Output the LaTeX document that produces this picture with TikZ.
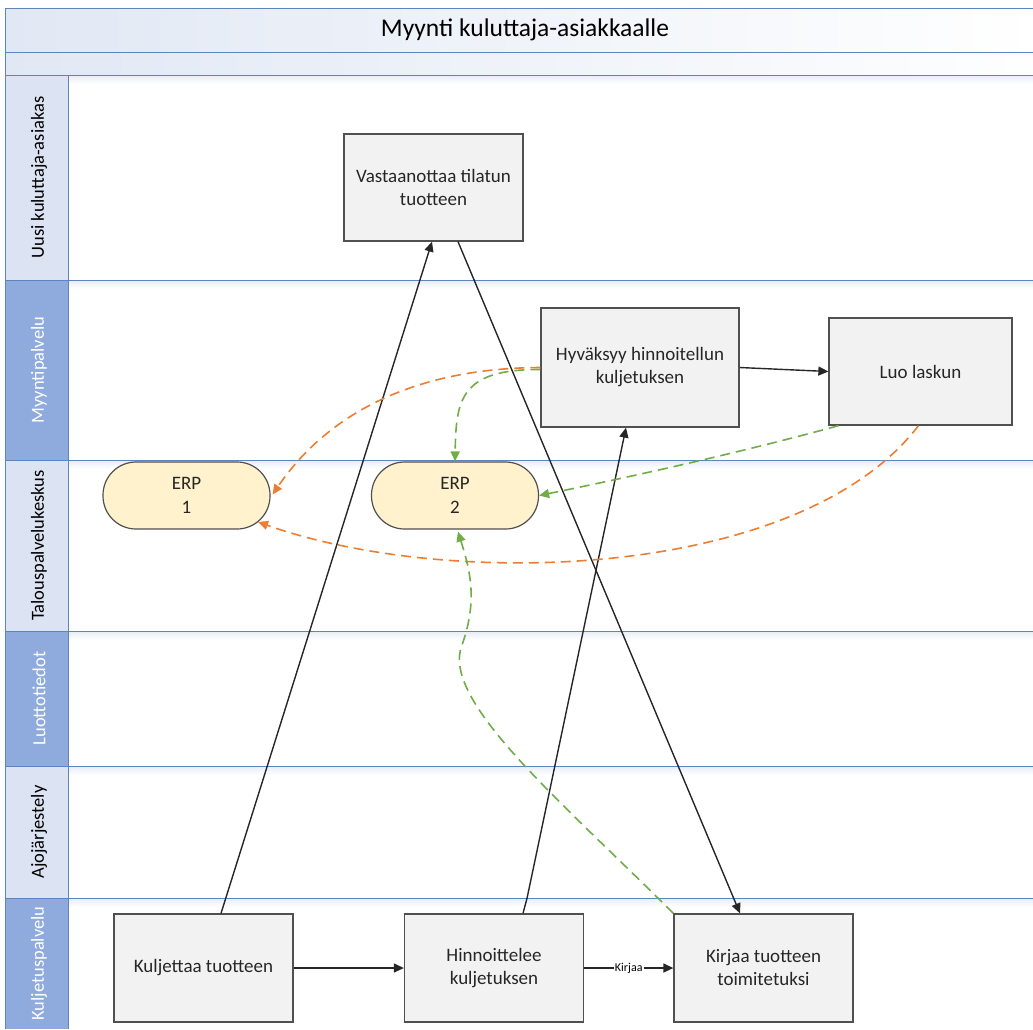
\documentclass[tikz,border=0pt]{standalone}
\usepackage{fontspec}
\setmainfont{Carlito}
\usetikzlibrary{arrows.meta,calc}
\definecolor{lanedark}{HTML}{8FAADC}
\definecolor{lanelight}{HTML}{DCE3F2}
\definecolor{laneline}{HTML}{5B84C0}
\definecolor{fadec}{HTML}{E6ECF6}
\definecolor{titlec}{HTML}{E1E8F4}
\definecolor{boxfill}{HTML}{F2F2F2}
\definecolor{boxline}{HTML}{505050}
\definecolor{erpfill}{HTML}{FFF2CC}
\definecolor{orangec}{HTML}{ED7D31}
\definecolor{greenc}{HTML}{70AD47}
\definecolor{textc}{HTML}{262626}
\tikzset{
  procbox/.style={draw=boxline, fill=boxfill, line width=1.3pt, minimum width=179pt, minimum height=107pt,
    inner sep=2pt, align=center, text=textc, font=\fontsize{19}{23}\selectfont},
  erpbox/.style={draw=boxline, fill=erpfill, line width=1.2pt, rounded corners=33pt, minimum width=167pt,
    minimum height=67pt, inner sep=2pt, align=center, text=textc, font=\fontsize{19}{24}\selectfont},
  flow/.style={line width=1.4pt, draw=black!85, -{Triangle[length=10pt,width=9pt]}},
  oflow/.style={line width=1.6pt, draw=orangec, dash pattern=on 10pt off 6pt,
    -{Triangle[length=10pt,width=9pt,fill=orangec]}},
  gflow/.style={line width=1.6pt, draw=greenc, dash pattern=on 10pt off 6pt,
    -{Triangle[length=10pt,width=9pt,fill=greenc]}},
  lanelab/.style={rotate=90, font=\fontsize{18.5}{21}\selectfont},
  sepline/.style={draw=laneline, line width=1pt},
}
\begin{document}
\begin{tikzpicture}[x=1pt,y=-1pt]
\useasboundingbox (0,0) rectangle (1033,1029);
\clip (0,0) rectangle (1033,1029);
% title bands
\shade[left color=titlec, right color=white] (5,8) rectangle (1040,52);
\shade[left color=titlec, right color=white!97!titlec] (5,52) rectangle (1040,74);
\draw[sepline] (5,8) -- (1040,8);
\draw[sepline] (5,52) -- (1040,52);
\node[font=\fontsize{25.5}{28}\selectfont, text=black] (title) at (525,30) {Myynti kuluttaja-asiakkaalle};
% lanes
\foreach \t/\b/\c in {75/280/lanelight, 280/460/lanedark, 460/631/lanelight, 631/766/lanedark, 766/898/lanelight, 898/1029/lanedark}{
  \shade[top color=fadec, bottom color=white] (68,\t) rectangle (1040,\t+9);
  \fill[\c] (5,\t) rectangle (68,\b);
  \draw[sepline] (5,\t) -- (1040,\t);
  \draw[sepline] (68,\t) -- (68,\b);
}
\draw[sepline] (5,8) -- (5,1029);
\node[lanelab, text=black] (l1) at (39,177.5) {Uusi kuluttaja-asiakas};
\node[lanelab, text=white] (l2) at (39,370) {Myyntipalvelu};
\node[lanelab, text=black] (l3) at (39,545.5) {Talouspalvelukeskus};
\node[lanelab, text=white] (l4) at (39,698.5) {Luottotiedot};
\node[lanelab, text=black] (l5) at (39,832) {Ajojärjestely};
\node[lanelab, text=white] (l6) at (39,963.5) {Kuljetuspalvelu};
% process boxes
\node[procbox] (vas) at (433.5,187.5) {Vastaanottaa tilatun\\tuotteen};
\node[procbox, minimum width=198pt, minimum height=119pt] (hyv) at (640,367.5) {Hyväksyy hinnoitellun\\kuljetuksen};
\node[procbox, minimum width=183pt] (luo) at (920.5,371.5) {Luo laskun};
\node[erpbox] (erpa) at (186.5,495.5) {ERP\\1};
\node[erpbox] (erpb) at (455,495.5) {ERP\\2};
\node[procbox, minimum height=108pt] (kul) at (203.5,968) {Kuljettaa tuotteen};
\node[procbox, minimum height=108pt] (hin) at (494,968) {Hinnoittelee\\kuljetuksen};
\node[procbox, minimum height=108pt] (kir) at (763.5,968) {Kirjaa tuotteen\\toimitetuksi};
% solid flows
\draw[flow] ($(kul.north)+(17.5,0)$) -- ($(vas.south)+(-1.5,0)$);
\draw[flow] ($(vas.south)+(24.5,0)$) -- ($(kir.north)+(-23.5,0)$);
\draw[flow] ($(hin.north)+(29,0)$) -- ++(4,-15) -- ($(hyv.south)+(-14,0)$);
\draw[flow] (hyv.east) -- (luo.west);
\draw[flow] (kul.east) -- (hin.west);
\draw[flow] (hin.east) -- node[fill=white, inner sep=1pt, font=\fontsize{12}{13}\selectfont] (kirlab) {Kirjaa} (kir.west);
% dashed flows
\draw[gflow] ($(hyv.west)+(0,2)$) .. controls (460,369) and (456,400) .. (erpb.north);
\draw[oflow] (hyv.west) .. controls (420,368) and (330,410) .. ($(erpa.east)+(2,-1)$);
\draw[gflow] ($(luo.south)+(-82,0)$) .. controls (750,450) and (640,475) .. (erpb.east);
\draw[oflow] ($(luo.south)+(-2,0)$) .. controls (800,580) and (450,590) .. ($(erpa.center)+(71.5,26.5)$);
\draw[gflow] (kir.north west) .. controls (560,800) and (440,700) .. (462,645)
   .. controls (478,600) and (470,570) .. ($(erpb.south)+(3,2)$);
\end{tikzpicture}
\end{document}
